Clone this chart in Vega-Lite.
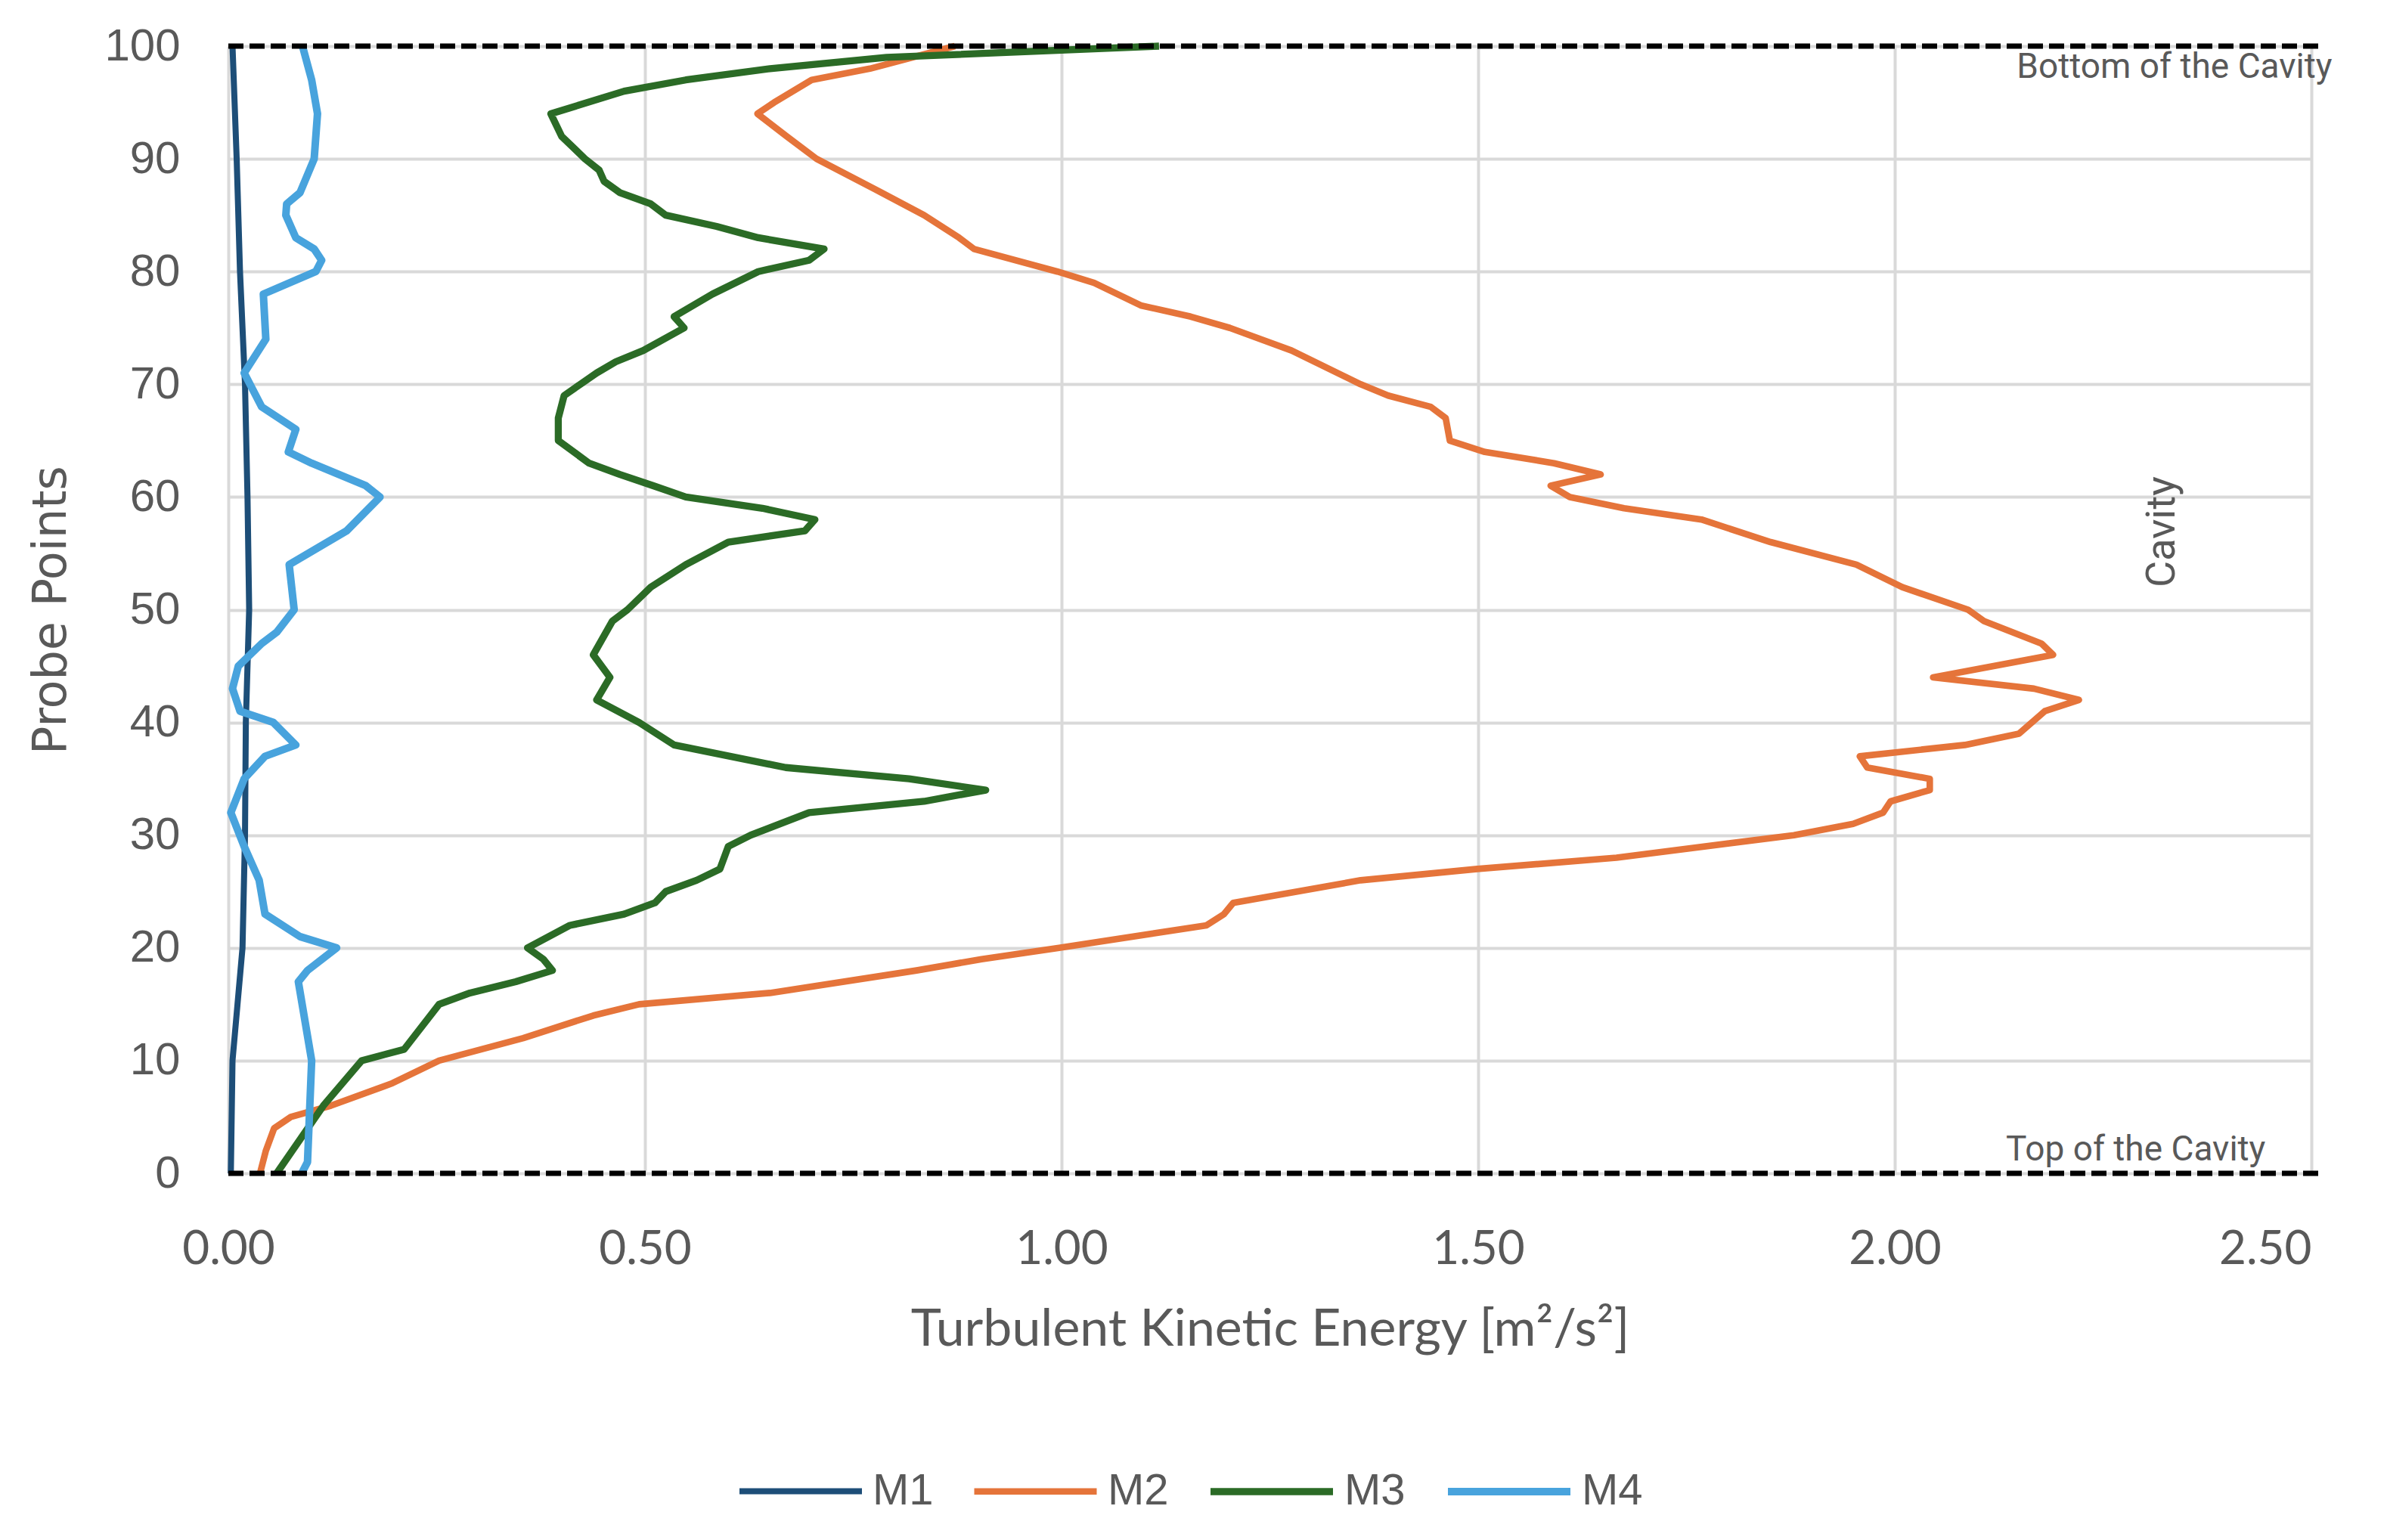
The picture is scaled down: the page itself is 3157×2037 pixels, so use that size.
{
  "$schema": "https://vega.github.io/schema/vega-lite/v6.json",
  "width": 2755,
  "height": 1491,
  "autosize": "none",
  "padding": {"left": 302, "top": 61, "right": 100, "bottom": 485},
  "background": "white",
  "config": {
    "view": {"stroke": null},
    "axis": {"gridColor": "#d9d9d9", "gridWidth": 4, "domain": false, "ticks": false, "labelColor": "#595959", "titleColor": "#595959", "titleFontWeight": "normal"}
  },
  "layer": [
    {
      "data": {
        "values": [
          {"m": "M1", "p": 0, "k": 0.003}, {"m": "M1", "p": 5, "k": 0.004}, {"m": "M1", "p": 10, "k": 0.005},
          {"m": "M1", "p": 15, "k": 0.011}, {"m": "M1", "p": 20, "k": 0.017}, {"m": "M1", "p": 30, "k": 0.02},
          {"m": "M1", "p": 40, "k": 0.021}, {"m": "M1", "p": 50, "k": 0.025}, {"m": "M1", "p": 60, "k": 0.023},
          {"m": "M1", "p": 70, "k": 0.02}, {"m": "M1", "p": 80, "k": 0.014}, {"m": "M1", "p": 90, "k": 0.01},
          {"m": "M1", "p": 100, "k": 0.005},

          {"m": "M2", "p": 0, "k": 0.038}, {"m": "M2", "p": 2, "k": 0.045}, {"m": "M2", "p": 4, "k": 0.055},
          {"m": "M2", "p": 5, "k": 0.075}, {"m": "M2", "p": 6, "k": 0.123}, {"m": "M2", "p": 8, "k": 0.197},
          {"m": "M2", "p": 10, "k": 0.253}, {"m": "M2", "p": 12, "k": 0.354}, {"m": "M2", "p": 14, "k": 0.438},
          {"m": "M2", "p": 15, "k": 0.493}, {"m": "M2", "p": 16, "k": 0.65}, {"m": "M2", "p": 18, "k": 0.826},
          {"m": "M2", "p": 19, "k": 0.904}, {"m": "M2", "p": 20, "k": 0.997}, {"m": "M2", "p": 22, "k": 1.174},
          {"m": "M2", "p": 23, "k": 1.195}, {"m": "M2", "p": 24, "k": 1.206}, {"m": "M2", "p": 26, "k": 1.359},
          {"m": "M2", "p": 27, "k": 1.499}, {"m": "M2", "p": 28, "k": 1.666}, {"m": "M2", "p": 30, "k": 1.879},
          {"m": "M2", "p": 31, "k": 1.95}, {"m": "M2", "p": 32, "k": 1.986}, {"m": "M2", "p": 33, "k": 1.995},
          {"m": "M2", "p": 34, "k": 2.042}, {"m": "M2", "p": 35, "k": 2.042}, {"m": "M2", "p": 36, "k": 1.967},
          {"m": "M2", "p": 37, "k": 1.958}, {"m": "M2", "p": 38, "k": 2.084}, {"m": "M2", "p": 39, "k": 2.149},
          {"m": "M2", "p": 41, "k": 2.18}, {"m": "M2", "p": 42, "k": 2.221}, {"m": "M2", "p": 43, "k": 2.167},
          {"m": "M2", "p": 44, "k": 2.046}, {"m": "M2", "p": 46, "k": 2.19}, {"m": "M2", "p": 47, "k": 2.176},
          {"m": "M2", "p": 49, "k": 2.107}, {"m": "M2", "p": 50, "k": 2.088}, {"m": "M2", "p": 52, "k": 2.009},
          {"m": "M2", "p": 54, "k": 1.954}, {"m": "M2", "p": 56, "k": 1.851}, {"m": "M2", "p": 58, "k": 1.768},
          {"m": "M2", "p": 59, "k": 1.675}, {"m": "M2", "p": 60, "k": 1.61}, {"m": "M2", "p": 61, "k": 1.587},
          {"m": "M2", "p": 62, "k": 1.647}, {"m": "M2", "p": 63, "k": 1.591}, {"m": "M2", "p": 64, "k": 1.508},
          {"m": "M2", "p": 65, "k": 1.466}, {"m": "M2", "p": 67, "k": 1.461}, {"m": "M2", "p": 68, "k": 1.443},
          {"m": "M2", "p": 69, "k": 1.392}, {"m": "M2", "p": 70, "k": 1.359}, {"m": "M2", "p": 73, "k": 1.276},
          {"m": "M2", "p": 75, "k": 1.202}, {"m": "M2", "p": 76, "k": 1.155}, {"m": "M2", "p": 77, "k": 1.095},
          {"m": "M2", "p": 79, "k": 1.039}, {"m": "M2", "p": 80, "k": 0.995}, {"m": "M2", "p": 82, "k": 0.895},
          {"m": "M2", "p": 83, "k": 0.877}, {"m": "M2", "p": 85, "k": 0.835}, {"m": "M2", "p": 87, "k": 0.784},
          {"m": "M2", "p": 90, "k": 0.706}, {"m": "M2", "p": 92, "k": 0.67}, {"m": "M2", "p": 94, "k": 0.635},
          {"m": "M2", "p": 95, "k": 0.655}, {"m": "M2", "p": 97, "k": 0.7}, {"m": "M2", "p": 98, "k": 0.77},
          {"m": "M2", "p": 100, "k": 0.872},

          {"m": "M3", "p": 0, "k": 0.058}, {"m": "M3", "p": 6, "k": 0.114}, {"m": "M3", "p": 10, "k": 0.16},
          {"m": "M3", "p": 11, "k": 0.211}, {"m": "M3", "p": 15, "k": 0.253}, {"m": "M3", "p": 16, "k": 0.29},
          {"m": "M3", "p": 17, "k": 0.345}, {"m": "M3", "p": 18, "k": 0.389}, {"m": "M3", "p": 19, "k": 0.378},
          {"m": "M3", "p": 20, "k": 0.359}, {"m": "M3", "p": 22, "k": 0.41}, {"m": "M3", "p": 23, "k": 0.475},
          {"m": "M3", "p": 24, "k": 0.512}, {"m": "M3", "p": 25, "k": 0.525}, {"m": "M3", "p": 26, "k": 0.562},
          {"m": "M3", "p": 27, "k": 0.59}, {"m": "M3", "p": 29, "k": 0.6}, {"m": "M3", "p": 30, "k": 0.627},
          {"m": "M3", "p": 32, "k": 0.697}, {"m": "M3", "p": 33, "k": 0.835}, {"m": "M3", "p": 34, "k": 0.909},
          {"m": "M3", "p": 35, "k": 0.817}, {"m": "M3", "p": 36, "k": 0.669}, {"m": "M3", "p": 38, "k": 0.535},
          {"m": "M3", "p": 40, "k": 0.493}, {"m": "M3", "p": 42, "k": 0.442}, {"m": "M3", "p": 44, "k": 0.458},
          {"m": "M3", "p": 46, "k": 0.438}, {"m": "M3", "p": 49, "k": 0.461}, {"m": "M3", "p": 50, "k": 0.479},
          {"m": "M3", "p": 52, "k": 0.507}, {"m": "M3", "p": 54, "k": 0.549}, {"m": "M3", "p": 56, "k": 0.6},
          {"m": "M3", "p": 57, "k": 0.692}, {"m": "M3", "p": 58, "k": 0.704}, {"m": "M3", "p": 59, "k": 0.641},
          {"m": "M3", "p": 60, "k": 0.549}, {"m": "M3", "p": 61, "k": 0.51}, {"m": "M3", "p": 62, "k": 0.47},
          {"m": "M3", "p": 63, "k": 0.433}, {"m": "M3", "p": 65, "k": 0.396}, {"m": "M3", "p": 67, "k": 0.396},
          {"m": "M3", "p": 69, "k": 0.403}, {"m": "M3", "p": 71, "k": 0.442}, {"m": "M3", "p": 72, "k": 0.465},
          {"m": "M3", "p": 73, "k": 0.498}, {"m": "M3", "p": 75, "k": 0.547}, {"m": "M3", "p": 76, "k": 0.535},
          {"m": "M3", "p": 78, "k": 0.581}, {"m": "M3", "p": 80, "k": 0.636}, {"m": "M3", "p": 81, "k": 0.697},
          {"m": "M3", "p": 82, "k": 0.715}, {"m": "M3", "p": 83, "k": 0.636}, {"m": "M3", "p": 84, "k": 0.586},
          {"m": "M3", "p": 85, "k": 0.525}, {"m": "M3", "p": 86, "k": 0.507}, {"m": "M3", "p": 87, "k": 0.47},
          {"m": "M3", "p": 88, "k": 0.451}, {"m": "M3", "p": 89, "k": 0.445}, {"m": "M3", "p": 90, "k": 0.428},
          {"m": "M3", "p": 91, "k": 0.414}, {"m": "M3", "p": 92, "k": 0.4}, {"m": "M3", "p": 94, "k": 0.387},
          {"m": "M3", "p": 96, "k": 0.475}, {"m": "M3", "p": 97, "k": 0.549}, {"m": "M3", "p": 98, "k": 0.65},
          {"m": "M3", "p": 99, "k": 0.79}, {"m": "M3", "p": 100, "k": 1.117},

          {"m": "M4", "p": 0, "k": 0.088}, {"m": "M4", "p": 1, "k": 0.095}, {"m": "M4", "p": 10, "k": 0.1},
          {"m": "M4", "p": 17, "k": 0.084}, {"m": "M4", "p": 18, "k": 0.095}, {"m": "M4", "p": 20, "k": 0.13},
          {"m": "M4", "p": 21, "k": 0.086}, {"m": "M4", "p": 23, "k": 0.044}, {"m": "M4", "p": 26, "k": 0.037},
          {"m": "M4", "p": 29, "k": 0.019}, {"m": "M4", "p": 32, "k": 0.003}, {"m": "M4", "p": 35, "k": 0.019},
          {"m": "M4", "p": 37, "k": 0.044}, {"m": "M4", "p": 38, "k": 0.081}, {"m": "M4", "p": 40, "k": 0.054},
          {"m": "M4", "p": 41, "k": 0.014}, {"m": "M4", "p": 43, "k": 0.005}, {"m": "M4", "p": 45, "k": 0.012},
          {"m": "M4", "p": 47, "k": 0.04}, {"m": "M4", "p": 48, "k": 0.058}, {"m": "M4", "p": 50, "k": 0.079},
          {"m": "M4", "p": 54, "k": 0.073}, {"m": "M4", "p": 57, "k": 0.142}, {"m": "M4", "p": 60, "k": 0.182},
          {"m": "M4", "p": 61, "k": 0.165}, {"m": "M4", "p": 63, "k": 0.1}, {"m": "M4", "p": 64, "k": 0.072},
          {"m": "M4", "p": 66, "k": 0.081}, {"m": "M4", "p": 68, "k": 0.04}, {"m": "M4", "p": 71, "k": 0.019},
          {"m": "M4", "p": 74, "k": 0.045}, {"m": "M4", "p": 78, "k": 0.042}, {"m": "M4", "p": 80, "k": 0.105},
          {"m": "M4", "p": 81, "k": 0.112}, {"m": "M4", "p": 82, "k": 0.103}, {"m": "M4", "p": 83, "k": 0.081},
          {"m": "M4", "p": 85, "k": 0.069}, {"m": "M4", "p": 86, "k": 0.07}, {"m": "M4", "p": 87, "k": 0.086},
          {"m": "M4", "p": 90, "k": 0.103}, {"m": "M4", "p": 94, "k": 0.107}, {"m": "M4", "p": 97, "k": 0.1},
          {"m": "M4", "p": 100, "k": 0.089}
        ]
      },
      "mark": {"type": "line", "strokeJoin": "round"},
      "encoding": {
        "x": {
          "field": "k", "type": "quantitative",
          "title": "Turbulent Kinetic Energy [m²/s²]",
          "scale": {"domain": [0, 2.5], "nice": false, "zero": false},
          "axis": {
            "values": [0, 0.5, 1, 1.5, 2, 2.5], "format": ".2f", "labelFlush": false,
            "labelAlign": {"condition": {"test": "datum.value == 2.5", "value": "right"}, "value": "center"},
            "labelFont": "Lato", "labelFontSize": 62, "labelPadding": 70,
            "titleFont": "Lato", "titleFontSize": 68, "titlePadding": 42
          }
        },
        "y": {
          "field": "p", "type": "quantitative",
          "title": "Probe Points",
          "scale": {"domain": [0, 100], "nice": false},
          "axis": {"values": [0, 10, 20, 30, 40, 50, 60, 70, 80, 90, 100], "labelFont": "Liberation Sans", "labelFontSize": 60, "labelPadding": 64, "titleFont": "DejaVu Sans", "titleFontSize": 62, "titlePadding": 38}
        },
        "order": {"field": "p", "type": "quantitative"},
        "strokeWidth": {
          "field": "m", "type": "nominal", "legend": null,
          "scale": {"domain": ["M1", "M2", "M3", "M4"], "range": [8, 10, 11, 10]}
        },
        "color": {
          "field": "m", "type": "nominal",
          "scale": {"domain": ["M1", "M2", "M3", "M4"], "range": ["#1D4E78", "#E5743A", "#2B6B26", "#48A3DD"]},
          "legend": {
            "title": null, "orient": "none", "direction": "horizontal",
            "legendX": 672, "legendY": 1826,
            "symbolType": "stroke", "symbolSize": 26244, "symbolStrokeWidth": 14,
            "labelFont": "Liberation Sans", "labelFontSize": 58, "labelColor": "#595959",
            "labelOffset": 10, "columnPadding": 36
          }
        }
      }
    },
    {
      "data": {"values": [{"y": 0, "x": 0, "x2": 2.514}, {"y": 100, "x": 0, "x2": 2.514}]},
      "mark": {"type": "rule", "color": "#000000", "strokeWidth": 7, "strokeDash": [20, 8]},
      "encoding": {
        "y": {"field": "y", "type": "quantitative"},
        "x": {"field": "x", "type": "quantitative"},
        "x2": {"field": "x2"}
      }
    },
    {
      "data": {"values": [
        {"x": 2.525, "y": 98.1, "t": "Bottom of the Cavity"},
        {"x": 2.445, "y": 2.1, "t": "Top of the Cavity"}
      ]},
      "mark": {"type": "text", "align": "right", "baseline": "middle", "font": "Roboto", "fontSize": 46, "color": "#595959"},
      "encoding": {
        "x": {"field": "x", "type": "quantitative"},
        "y": {"field": "y", "type": "quantitative"},
        "text": {"field": "t"}
      }
    },
    {
      "data": {"values": [{"x": 2.321, "y": 56.9, "t": "Cavity"}]},
      "mark": {"type": "text", "align": "center", "baseline": "middle", "angle": 270, "font": "Roboto", "fontSize": 54, "color": "#595959"},
      "encoding": {
        "x": {"field": "x", "type": "quantitative"},
        "y": {"field": "y", "type": "quantitative"},
        "text": {"field": "t"}
      }
    }
  ]
}
